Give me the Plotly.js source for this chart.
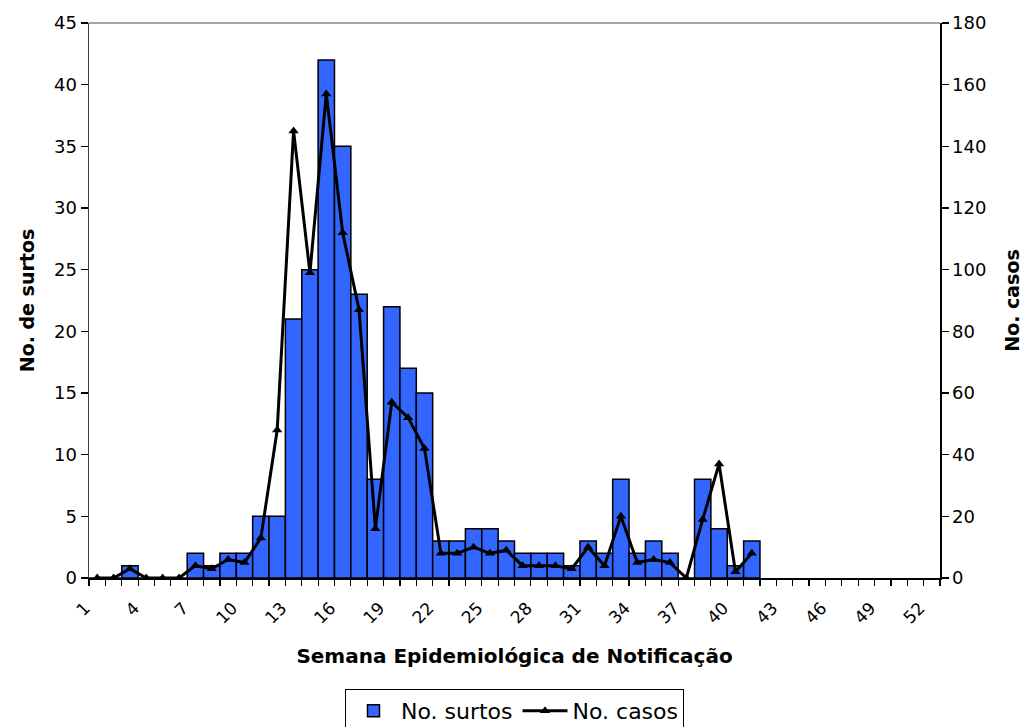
<!DOCTYPE html>
<html>
<head>
<meta charset="utf-8">
<script src="https://cdn.plot.ly/plotly-3.0.1.min.js"></script>
<style>html,body{margin:0;padding:0;background:#fff;}#chart{width:1024px;height:727px;}</style>
</head>
<body>
<div id="chart"></div>
<script>
const weeks = [1,2,3,4,5,6,7,8,9,10,11,12,13,14,15,16,17,18,19,20,21,22,23,24,25,26,27,28,29,30,31,32,33,34,35,36,37,38,39,40,41];
const surtos = [0,0,1,0,0,0,2,1,2,2,5,5,21,25,42,35,23,8,22,17,15,3,3,4,4,3,2,2,2,1,3,2,8,2,3,2,0,8,4,1,3];
const casos = [0,0,3,0,0,0,4,3,6,5,13,48,145,99,157,112,87,16,57,52,42,8,8,10,8,9,4,4,4,3,10,4,20,5,6,5,0,19,37,2,8];
const tickWeeks = [1,4,7,10,13,16,19,22,25,28,31,34,37,40,43,46,49,52];
const tickLabels = tickWeeks.map(String);

const font = 'DejaVu Sans, Verdana, sans-serif';

const traces = [
  {
    type: 'bar', name: 'No. surtos', x: weeks, y: surtos, width: 1,
    marker: {color: '#3366FF', line: {color: '#000', width: 1.5}},
    yaxis: 'y'
  },
  {
    type: 'scatter', mode: 'lines+markers', name: 'No. casos', x: weeks, y: casos,
    line: {color: '#000', width: 3},
    marker: {symbol: 'triangle-up', size: 9, color: '#000'},
    yaxis: 'y2'
  }
];

const layout = {
  width: 1024, height: 727,
  margin: {l: 89, r: 84, t: 23, b: 149},
  paper_bgcolor: '#fff', plot_bgcolor: '#fff',
  font: {family: font, color: '#000', size: 18},
  bargap: 0,
  showlegend: true,
  legend: {
    orientation: 'h', x: 0.5, xanchor: 'center', xref: 'paper',
    y: (727 - 689) / 727, yanchor: 'top', yref: 'container',
    bordercolor: '#000', borderwidth: 1, font: {size: 22, family: font},
    itemwidth: 45, traceorder: 'normal'
  },
  xaxis: {
    range: [0.5, 52.5], showgrid: false, zeroline: false,
    tickmode: 'array', tickvals: tickWeeks, ticktext: tickLabels,
    tickangle: -45, ticks: '', tickfont: {size: 17},
    ticklabelstandoff: 12, ticklabelshift: -12,
    showline: true, linecolor: '#000', linewidth: 1.5,
    minor: {tickmode: 'linear', tick0: 0.5, dtick: 1, ticks: 'outside', ticklen: 6, tickwidth: 1.2, tickcolor: '#000', showgrid: false},
    title: {text: '<b>Semana Epidemiológica de Notificação</b>', font: {size: 20}, standoff: 22},
    automargin: false
  },
  xaxis2: {
    overlaying: 'x', range: [0.5, 52.5], showgrid: false, zeroline: false,
    tickmode: 'linear', tick0: 0.5, dtick: 1, ticks: 'inside', ticklen: 6, tickwidth: 1.2, tickcolor: '#000',
    showticklabels: false, anchor: 'y', side: 'bottom'
  },
  yaxis: {
    range: [0, 45], dtick: 5, showgrid: false, zeroline: false,
    ticks: 'outside', ticklen: 7, tickcolor: '#000', tickwidth: 1.2,
    showline: true, linecolor: '#404040', linewidth: 1.5,
    tickfont: {size: 18},
    title: {text: '<b>No. de surtos</b>', font: {size: 19}, standoff: 14},
    automargin: false
  },
  yaxis2: {
    range: [0, 180], dtick: 20, overlaying: 'y', side: 'right',
    showgrid: false, zeroline: false,
    ticks: 'outside', ticklen: 7, tickcolor: '#000', tickwidth: 1.2,
    showline: true, linecolor: '#000', linewidth: 1.5,
    tickfont: {size: 18},
    title: {text: '<b>No. casos</b>', font: {size: 19}, standoff: 20},
    automargin: false
  },
  shapes: [
    {type: 'line', xref: 'paper', yref: 'paper', x0: 0, x1: 1, y0: 1, y1: 1, line: {color: '#888', width: 1.5}}
  ]
};

Plotly.newPlot('chart', traces, layout, {staticPlot: true, displayModeBar: false});
</script>
</body>
</html>
